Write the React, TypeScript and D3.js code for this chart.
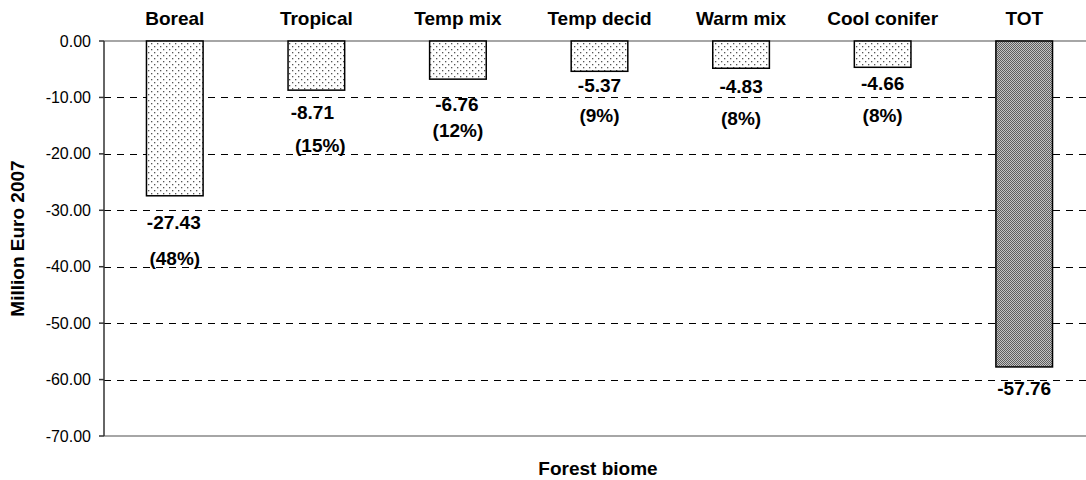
import { useMemo } from 'react';
import * as d3 from 'd3';

const categories = ['Boreal', 'Tropical', 'Temp mix', 'Temp decid', 'Warm mix', 'Cool conifer', 'TOT'];
const values = [-27.43, -8.71, -6.76, -5.37, -4.83, -4.66, -57.76];
const shares = ['(48%)', '(15%)', '(12%)', '(9%)', '(8%)', '(8%)', ''];
const yTicks = [0, -10, -20, -30, -40, -50, -60, -70];

// hand placed label offsets (below bar end), as in the original
const valueDy = [33, 29, 32, 21, 25, 23, 28];
const shareDy = [36, 33, 26, 30, 32, 32, 0];
const valueDx = [-1, -4, -1, 0, 0, 0, 0];
const shareDx = [0, 4, 0, 0, 0, 0, 0];

const W = 1086;
const H = 480;
const margin = { left: 104, right: -9, top: 41, bottom: 44 };
const font = '"Liberation Sans", Arial, sans-serif';

// hyphen minus like the original, not d3's unicode minus
const fmt = (v: number) => v.toFixed(2);

export default function App() {
  const x = useMemo(
    () =>
      d3
        .scaleBand()
        .domain(categories)
        .range([margin.left, W - margin.right])
        .paddingInner(0.6)
        .paddingOuter(0.3),
    []
  );
  const y = useMemo(
    () => d3.scaleLinear().domain([0, -70]).range([margin.top, H - margin.bottom]),
    []
  );
  const bw = x.bandwidth();

  return (
    <svg
      width={W}
      height={H}
      style={{ position: 'absolute', left: 0, top: 0, background: '#fff' }}
      fontFamily={font}
    >
      <defs>
        <pattern id="dots" width={6} height={6} patternUnits="userSpaceOnUse">
          <rect width={6} height={6} fill="#fff" />
          <rect x={1} y={1} width={1.3} height={1.3} fill="#555" />
          <rect x={4} y={4} width={1.3} height={1.3} fill="#555" />
        </pattern>
        <pattern id="dense" width={2} height={2} patternUnits="userSpaceOnUse">
          <rect width={2} height={2} fill="#c4c4c4" />
          <rect x={0} y={0} width={1} height={1} fill="#5e5e5e" />
          <rect x={1} y={1} width={1} height={1} fill="#5e5e5e" />
        </pattern>
      </defs>

      {/* dashed grid */}
      {yTicks
        .filter((t) => t !== 0 && t !== -70)
        .map((t) => (
          <line
            key={'g' + t}
            x1={margin.left}
            x2={W}
            y1={Math.round(y(t)) + 0.5}
            y2={Math.round(y(t)) + 0.5}
            stroke="#000"
            strokeDasharray="7,6"
          />
        ))}
      <line x1={margin.left} x2={W} y1={y(0)} y2={y(0)} stroke="#888" strokeWidth={1.5} />
      <line x1={margin.left} x2={W} y1={y(-70)} y2={y(-70)} stroke="#888" strokeWidth={1.5} />

      {/* bars */}
      {categories.map((c, i) => (
        <rect
          key={c}
          x={x(c)}
          y={y(0)}
          width={bw}
          height={y(values[i]) - y(0)}
          fill={c === 'TOT' ? 'url(#dense)' : 'url(#dots)'}
          stroke="#000"
          strokeWidth={1.5}
        />
      ))}

      {/* y axis */}
      <line x1={margin.left} x2={margin.left} y1={y(0)} y2={y(-70)} stroke="#333" strokeWidth={1.5} />
      {yTicks.map((t) => (
        <g key={'t' + t}>
          <line x1={margin.left - 5} x2={margin.left} y1={y(t)} y2={y(t)} stroke="#333" strokeWidth={1.5} />
          <text x={91} y={y(t)} dy="0.35em" textAnchor="end" fontSize={16} fill="#000">
            {fmt(t)}
          </text>
        </g>
      ))}

      {/* category names on top */}
      {categories.map((c) => (
        <text
          key={'c' + c}
          x={(x(c) ?? 0) + bw / 2}
          y={25}
          textAnchor="middle"
          fontSize={19}
          fontWeight="bold"
        >
          {c}
        </text>
      ))}

      {/* value labels */}
      {categories.map((c, i) => {
        const cx = (x(c) ?? 0) + bw / 2;
        const yEnd = y(values[i]);
        return (
          <g key={'v' + c} fontSize={19} fontWeight="bold" textAnchor="middle">
            <text x={cx + valueDx[i]} y={yEnd + valueDy[i]}>
              {fmt(values[i])}
            </text>
            {shares[i] && (
              <text x={cx + shareDx[i]} y={yEnd + valueDy[i] + shareDy[i]}>
                {shares[i]}
              </text>
            )}
          </g>
        );
      })}

      {/* axis titles */}
      <text
        transform={`translate(24, ${(y(0) + y(-70)) / 2}) rotate(-90)`}
        textAnchor="middle"
        fontSize={19}
        fontWeight="bold"
      >
        Million Euro 2007
      </text>
      <text x={598} y={475} textAnchor="middle" fontSize={19} fontWeight="bold">
        Forest biome
      </text>
    </svg>
  );
}
